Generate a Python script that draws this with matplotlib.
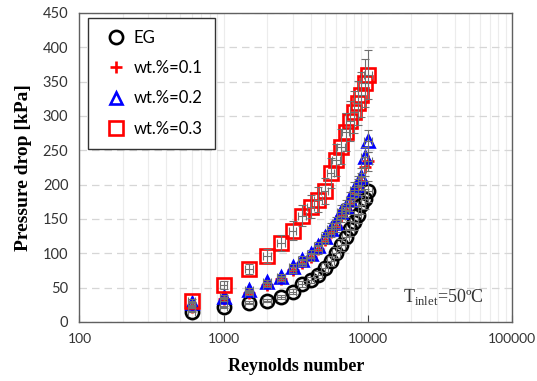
import matplotlib.pyplot as plt
import numpy as np

# Dane
re_eg = [600, 1000, 1500, 2000, 2500, 3000, 3500, 4000, 4500, 5000, 5500, 6000,
         6500, 7000, 7500, 8000, 8500, 9000, 9500, 10000]
dp_eg = [15, 22, 28, 31, 36, 44, 55, 61, 69, 79, 89, 101,
         112, 124, 136, 146, 156, 171, 179, 190]

re_01 = [600, 1000, 1500, 2000, 2500, 3000, 3500, 4000, 4500, 5000, 5500, 6000,
         6500, 7000, 7500, 8000, 8500, 9000, 9500, 10000]
dp_01 = [22, 33, 42, 54, 63, 76, 86, 95, 106, 120, 131, 140,
         155, 163, 172, 186, 196, 205, 226, 234]

re_02 = [600, 1000, 1500, 2000, 2500, 3000, 3500, 4000, 4500, 5000, 5500, 6000,
         6500, 7000, 7500, 8000, 8500, 9000, 9500, 10000]
dp_02 = [27, 37, 47, 58, 66, 80, 90, 99, 110, 124, 136, 144,
         160, 168, 178, 192, 200, 211, 240, 264]

re_03 = [600, 1000, 1500, 2000, 2500, 3000, 3500, 4000, 4500, 5000, 5500, 6000,
         6500, 7000, 7500, 8000, 8500, 9000, 9500, 10000]
dp_03 = [31, 54, 77, 96, 115, 133, 155, 168, 178, 191, 217, 236,
         255, 276, 293, 306, 319, 331, 348, 360]

# niepewnosci pomiarowe (wzgledne)
u_re = 0.06
u_eg = 0.08
u_01 = 0.06
u_02 = 0.06
u_03 = 0.10

labels = ['EG', 'wt.%=0.1', 'wt.%=0.2', 'wt.%=0.3']

fig, ax = plt.subplots(figsize=(5.37, 3.81), dpi=100)
fig.subplots_adjust(left=0.148, right=0.954, top=0.966, bottom=0.155)

ax.set_xscale('log')
ax.set_xlim(100, 100000)
ax.set_ylim(0, 450)
ax.set_yticks(np.arange(0, 451, 50))

# Siatka
ax.grid(True, which='major', axis='y', color='#d6d6d6', linestyle=(0, (6, 4)), linewidth=0.9)
ax.grid(True, which='both', axis='x', color='#ececec', linestyle='-', linewidth=0.8)
ax.set_axisbelow(True)

serie = [
    (re_eg, dp_eg, u_eg, 'o', 'black', 9.5),
    (re_01, dp_01, u_01, '+', 'red', 8.5),
    (re_02, dp_02, u_02, '^', 'blue', 8.5),
    (re_03, dp_03, u_03, 's', 'red', 9.5),
]

for (re, dp, u, m, c, ms), lab in zip(serie, labels):
    re = np.array(re)
    dp = np.array(dp)
    ax.plot(re, dp, linestyle='none', marker=m, markersize=ms, markerfacecolor='none',
            markeredgecolor=c, markeredgewidth=1.9, label=lab, zorder=3)
    ax.errorbar(re, dp, yerr=dp * u, xerr=re * u_re, fmt='none', ecolor='#707070',
                elinewidth=0.8, capsize=3, capthick=0.8, zorder=4)

# Osie
for s in ax.spines.values():
    s.set_color('#606060')
    s.set_linewidth(1.0)
ax.tick_params(axis='x', which='major', direction='in', length=5, color='#404040',
               labelsize=10, pad=8)
ax.tick_params(axis='x', which='minor', length=0)
ax.tick_params(axis='y', length=0, labelsize=10.5, pad=8)
ax.set_xticks([100, 1000, 10000, 100000])
ax.set_xticklabels(['100', '1000', '10000', '100000'], fontfamily='Lato', color='#333333')
for t in ax.get_yticklabels():
    t.set_fontfamily('Lato')
    t.set_color('#333333')

ax.set_xlabel('Reynolds number', fontfamily='Liberation Serif', fontweight='bold',
              fontsize=13, labelpad=9)
ax.set_ylabel('Pressure drop [kPa]', fontfamily='Liberation Serif', fontweight='bold',
              fontsize=14, labelpad=8)

ax.text(0.935, 0.08, r'T$_{\mathregular{inlet}}$=50ºC', transform=ax.transAxes,
        ha='right', va='center', fontfamily='Liberation Serif', fontsize=13, color='#333333')

leg = ax.legend(loc='upper left', bbox_to_anchor=(0.02, 0.985), borderaxespad=0,
                frameon=True, fancybox=False, edgecolor='#333333', framealpha=1,
                prop={'family': 'Lato', 'size': 12}, labelspacing=0.85,
                handletextpad=0.2, handlelength=1.8, borderpad=0.75)
leg.get_frame().set_linewidth(1.0)

fig.savefig('out.png', dpi=100)
